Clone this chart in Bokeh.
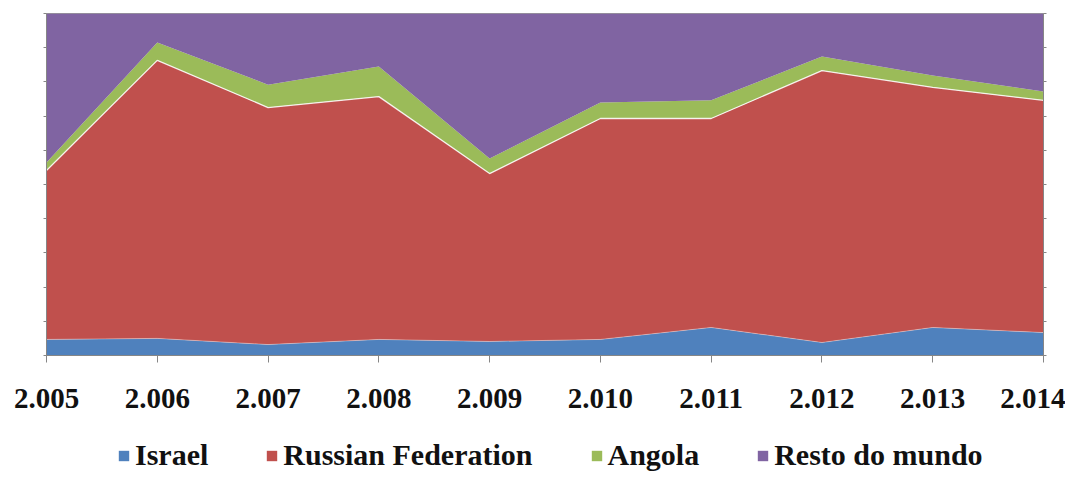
from bokeh.plotting import figure
from bokeh.layouts import column
from bokeh.models import (ColumnDataSource, FixedTicker, LinearAxis, Legend, LegendItem, Range1d)
from bokeh.embed import file_html
from bokeh.resources import INLINE

years = [2005, 2006, 2007, 2008, 2009, 2010, 2011, 2012, 2013, 2014]
tick_labels = ["2.005", "2.006", "2.007", "2.008", "2.009", "2.010", "2.011", "2.012", "2.013", "2.014"]
series_names = ["Israel", "Russian Federation", "Angola", "Resto do mundo"]
israel = [4.7, 5.0, 3.2, 4.7, 4.1, 4.7, 8.2, 3.8, 8.2, 6.7]
russia = [49.4, 81.3, 69.3, 71.0, 49.1, 64.6, 61.1, 79.5, 70.2, 67.9]
angola = [2.3, 5.2, 6.7, 8.8, 4.4, 4.7, 5.3, 4.1, 3.5, 2.6]
resto = [43.6, 8.5, 20.8, 15.5, 42.4, 26.0, 25.4, 12.6, 18.1, 22.8]
colors = ["#4F81BD", "#C0504D", "#9BBB59", "#8064A2"]

keys = ["israel", "russia", "angola", "resto"]
src = ColumnDataSource(dict(x=years, israel=israel, russia=russia, angola=angola, resto=resto))
src.data["c1"] = list(israel)
src.data["c2"] = [a + b for a, b in zip(israel, russia)]

p = figure(width=1065, height=434, output_backend="svg", toolbar_location=None,
           x_range=Range1d(2005, 2014), y_range=Range1d(0, 100),
           min_border_left=46, min_border_right=22, min_border_top=13, min_border_bottom=79)
p.background_fill_color = "white"
p.border_fill_color = "white"
p.outline_line_color = "#9a9a9a"
p.grid.visible = False

rs = p.varea_stack(stackers=keys, x="x", color=colors, source=src)
p.line(x="x", y="c1", source=src, line_color="white", line_width=1, line_alpha=0.35)
p.line(x="x", y="c2", source=src, line_color="white", line_width=1.3, line_alpha=0.85)

xa = p.xaxis[0]
xa.ticker = FixedTicker(ticks=years)
xa.major_label_overrides = {y: t for y, t in zip(years, tick_labels)}
xa.axis_line_color = "#868686"
xa.major_tick_line_color = "#868686"
xa.major_tick_out = 7
xa.major_tick_in = 0
xa.minor_tick_line_color = None
xa.major_label_standoff = 26
xa.major_label_text_font = "Liberation Serif"
xa.major_label_text_font_style = "bold"
xa.major_label_text_font_size = "29px"
xa.major_label_text_color = "#111111"

yt = list(range(0, 101, 10))
ya = p.yaxis[0]
ya.ticker = FixedTicker(ticks=yt)
ya.major_label_overrides = {v: "" for v in yt}
ya.axis_line_color = "#868686"
ya.major_tick_line_color = "#868686"
ya.major_tick_out = 3
ya.major_tick_in = 0
ya.minor_tick_line_color = None
ya.major_label_standoff = 0

ra = LinearAxis(ticker=FixedTicker(ticks=yt))
ra.major_label_overrides = {v: "" for v in yt}
ra.axis_line_color = "#868686"
ra.major_tick_line_color = "#868686"
ra.major_tick_out = 3
ra.major_tick_in = 0
ra.minor_tick_line_color = None
ra.major_label_standoff = 0
p.add_layout(ra, "right")

# legend strip (its own figure so the legend is not clipped)
lg = figure(width=1065, height=38, output_backend="svg", toolbar_location=None,
            x_range=Range1d(0, 1), y_range=Range1d(0, 1),
            x_axis_type=None, y_axis_type=None,
            min_border_left=0, min_border_right=0, min_border_top=0, min_border_bottom=0)
lg.outline_line_color = None
lg.grid.visible = False
lrs = lg.varea_stack(stackers=keys, x="x", color=colors, source=src)  # outside view, used for legend swatches

legend = Legend(items=[LegendItem(label=n, renderers=[r]) for n, r in zip(series_names, lrs)],
                orientation="horizontal", location=(71, 0))
legend.label_text_font = "Liberation Serif"
legend.label_text_font_style = "bold"
legend.label_text_font_size = "30px"
legend.label_text_color = "#111111"
legend.glyph_width = 13
legend.glyph_height = 13
legend.label_standoff = 5
legend.spacing = 57
legend.padding = 0
legend.margin = 0
legend.border_line_color = None
legend.background_fill_alpha = 0
lg.add_layout(legend, "center")

layout = column(p, lg, spacing=0)
open("out.html", "w").write(file_html(layout, INLINE))
